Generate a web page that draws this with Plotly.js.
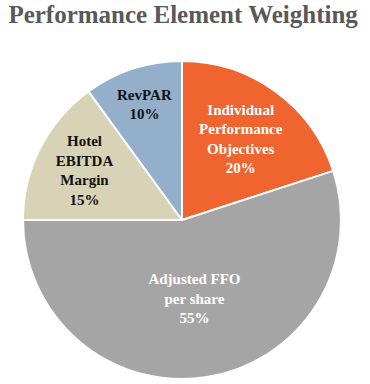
<!DOCTYPE html>
<html>
<head>
<script src="https://cdn.plot.ly/plotly-3.0.1.min.js"></script>
<style>body{margin:0;padding:0;background:#fff}</style>
</head>
<body>
<div id="chart" style="width:370px;height:384px"></div>
<script>
var labels = ["Individual Performance Objectives", "Adjusted FFO per share", "Hotel EBITDA Margin", "RevPAR"];
var values = [20, 55, 15, 10];
var labelLines = ["Individual<br>Performance<br>Objectives", "Adjusted FFO<br>per share", "Hotel<br>EBITDA<br>Margin", "RevPAR"];
var colors = ["#F0652F", "#A5A5A5", "#D8D3B6", "#94AFC9"];
var textColors = ["#ffffff", "#ffffff", "#111111", "#111111"];

var text = labelLines.map(function(l, i){ return "<b>" + l + "<br>" + values[i] + "%</b>"; });

Plotly.newPlot("chart", [{
  type: "pie",
  labels: labels,
  values: values,
  text: text,
  textinfo: "text",
  hoverinfo: "label+percent",
  sort: false,
  direction: "clockwise",
  rotation: 0,
  marker: {colors: colors, line: {color: "#ffffff", width: 2}},
  textposition: "inside",
  insidetextorientation: "horizontal",
  insidetextfont: {family: "Liberation Serif, Times New Roman, serif", size: 15, color: textColors},
  showlegend: false
}], {
  width: 370, height: 384,
  margin: {l: 23, r: 29, t: 61, b: 5},
  paper_bgcolor: "#ffffff",
  title: {text: "<b>Performance Element Weighting</b>", x: 0.495, xanchor: "center", y: 0.985, yanchor: "top",
    font: {family: "Liberation Serif, Times New Roman, serif", size: 25, color: "#595959"}},
  uniformtext: {mode: false}
}, {displayModeBar: false, staticPlot: true});
</script>
</body>
</html>
